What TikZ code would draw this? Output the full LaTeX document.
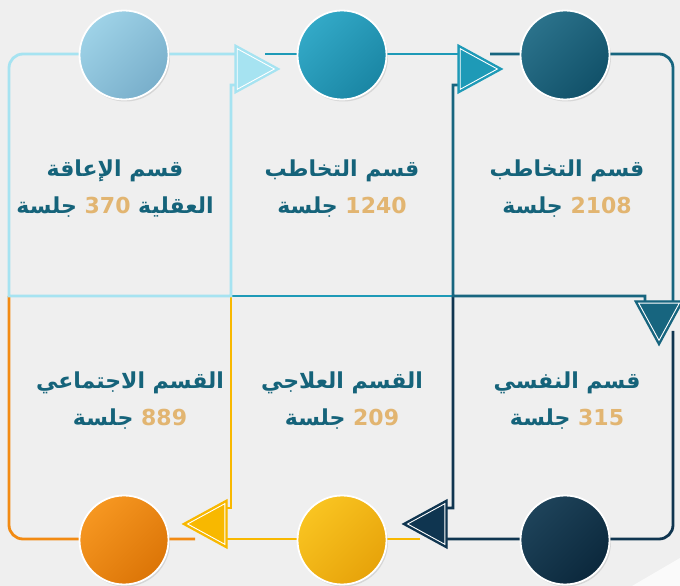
\documentclass[tikz,border=0pt]{standalone}
\usepackage{fontspec}
\usepackage{tikz}
\usetikzlibrary{shadows}
\newfontfamily\arabicfont[Script=Arabic]{DejaVu Sans}
\TeXXeTstate=1
\newcommand{\ar}[1]{{\beginR #1\endR}}
\newcommand{\num}[1]{{\color{numtext}#1}}

\definecolor{pagebg}{HTML}{EFEFEF}
\definecolor{skyline}{HTML}{A6E3F1}
\definecolor{tealline}{HTML}{1E9AB7}
\definecolor{deepline}{HTML}{17657F}
\definecolor{navyline}{HTML}{0F3550}
\definecolor{goldline}{HTML}{F8B800}
\definecolor{orangeline}{HTML}{F28A12}
\definecolor{labeltext}{HTML}{15637A}
\definecolor{numtext}{HTML}{E2B571}
% circle shades, light and dark
\definecolor{skyA}{HTML}{9ED2E7}    \definecolor{skyB}{HTML}{79AFCB}
\definecolor{tealA}{HTML}{33A9C7}   \definecolor{tealB}{HTML}{1A86A4}
\definecolor{deepA}{HTML}{2B728B}   \definecolor{deepB}{HTML}{115169}
\definecolor{navyA}{HTML}{1E435A}   \definecolor{navyB}{HTML}{0B283C}
\definecolor{goldA}{HTML}{F9C421}   \definecolor{goldB}{HTML}{E7A30A}
\definecolor{orangeA}{HTML}{F69721} \definecolor{orangeB}{HTML}{DC7507}

\tikzset{
  loop/.style={line width=2.8pt, line join=miter},
  ball/.style={circle, minimum size=89pt, inner sep=0pt, draw=white, line width=1.8pt,
    top color=#1A, bottom color=#1B, shading angle=45,
    drop shadow={opacity=0.22, shadow xshift=1.5pt, shadow yshift=-2pt}},
  dept/.style={text=labeltext, align=center,
    font=\arabicfont\bfseries\fontsize{22}{37}\selectfont}
}

% arrow head on a loop: #1 colour, #2 middle of its base, #3 rotation
\newcommand{\looparrow}[3]{%
  \begin{scope}[shift={#2}, rotate=#3]
    \filldraw[draw=#1, fill=#1, line width=1.4pt] (0,24) -- (44,0) -- (0,-24) -- cycle;
    \draw[white, line width=0.9pt] (2.2,20.3) -- (39.4,0) -- (2.2,-20.3) -- cycle;
  \end{scope}}

\begin{document}
\begin{tikzpicture}[x=1pt, y=1pt]
  \useasboundingbox (0,0) rectangle (680,586);
  \fill[pagebg] (0,0) rectangle (680,586);
  \fill[white, opacity=0.7] (632,0) -- (680,0) -- (680,28) -- cycle;

  % loops of the six boxes
  \draw[loop, orangeline] (195,47) -- (23,47) arc[start angle=270, end angle=180, radius=14] -- (9,290);
  \draw[loop, goldline] (420,47) -- (227,47) (227,78) -- (231,78) -- (231,290);
  \draw[loop, navyline] (673,255) -- (673,61) arc[start angle=0, end angle=-90, radius=14] -- (447,47)
    (447,78) -- (453,78) -- (453,290);
  \draw[loop, tealline] (265,532) -- (458,532) (453,290) -- (231,290);
  \draw[loop, deepline] (490,532) -- (659,532) arc[start angle=90, end angle=0, radius=14] -- (673,285)
    (645,285) -- (645,290) -- (453,290) -- (453,501) -- (458,501);
  \draw[loop, skyline] (235,532) -- (23,532) arc[start angle=90, end angle=180, radius=14] -- (9,290)
    -- (231,290) -- (231,501) -- (235,501);

  % arrow heads
  \looparrow{skyline}{(235,517)}{0}
  \looparrow{tealline}{(458,517)}{0}
  \looparrow{deepline}{(659,285)}{-90}
  \looparrow{navyline}{(447,62)}{180}
  \looparrow{goldline}{(227,62)}{180}

  % circles
  \node (C1) [ball=sky] at (124,531) {};
  \node (C2) [ball=teal] at (342,531) {};
  \node (C3) [ball=deep] at (565,531) {};
  \node (C4) [ball=navy] at (565,46) {};
  \node (C5) [ball=gold] at (342,46) {};
  \node (C6) [ball=orange] at (124,46) {};

  % department labels
  \node (L1) [dept] at (115,397) {\ar{قسم الإعاقة}\\\ar{جلسة}~\num{370}~\ar{العقلية}};
  \node (L2) [dept] at (342,397) {\ar{قسم التخاطب}\\\ar{جلسة}~\num{1240}};
  \node (L3) [dept] at (567,397) {\ar{قسم التخاطب}\\\ar{جلسة}~\num{2108}};
  \node (L4) [dept] at (567,185) {\ar{قسم النفسي}\\\ar{جلسة}~\num{315}};
  \node (L5) [dept] at (342,185) {\ar{القسم العلاجي}\\\ar{جلسة}~\num{209}};
  \node (L6) [dept] at (130,185) {\ar{القسم الاجتماعي}\\\ar{جلسة}~\num{889}};
\end{tikzpicture}
\end{document}
